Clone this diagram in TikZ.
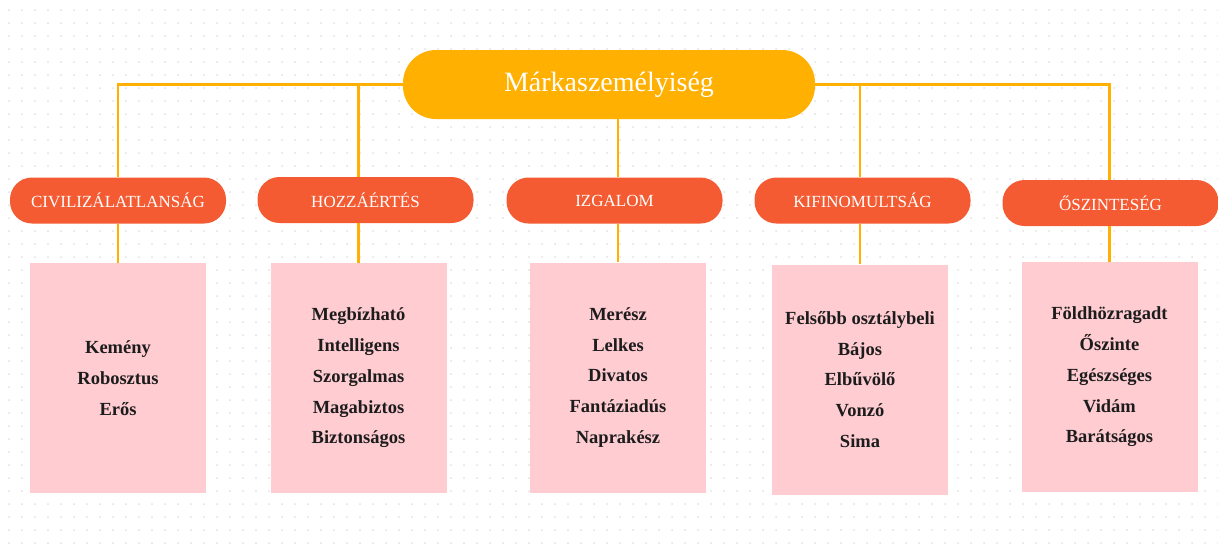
\documentclass[tikz,border=0pt]{standalone}
\usepackage{fontspec}
\setmainfont{Liberation Serif}
\usepackage{xcolor}
\usepackage{tikz}
\usetikzlibrary{positioning,calc}
\definecolor{amber}{HTML}{FFB000}
\definecolor{tomato}{HTML}{F45B32}
\definecolor{blush}{HTML}{FFCCD2}
\definecolor{ink}{HTML}{1C1C1C}
\definecolor{dotgray}{HTML}{E2E2E6}

\begin{document}
\begin{tikzpicture}[
  x=1pt,y=-1pt,
  brand/.style={fill=amber,rounded corners=33pt,minimum width=412pt,minimum height=69pt,text=white,font=\fontsize{28}{32}\selectfont},
  trait/.style={fill=tomato,rounded corners=22pt,minimum width=216pt,minimum height=46pt,text=white,font=\fontsize{17}{20}\selectfont},
  traitlist/.style={fill=blush,minimum width=176pt,minimum height=230pt,align=center,text=ink,font=\bfseries\fontsize{18.5}{30.7}\selectfont},
  link/.style={draw=amber,line width=2.6pt}
]
% page and dotted backdrop
\useasboundingbox[fill=white] (0,0) rectangle (1218,549);
\foreach \i in {0,...,93}
  \foreach \j in {0,...,41}
    \fill[dotgray] (9+13*\i,10+13*\j) circle (1pt);

\node[brand] (root) at (609,84.5) {Márkaszemélyiség};

\node[trait] (c1) at (118,200.5) {CIVILIZÁLATLANSÁG};
\node[trait] (c2) at (365.5,200) {HOZZÁÉRTÉS};
\node[trait] (c3) at (614.5,200.5) {IZGALOM};
\node[trait] (c4) at (862.5,200.5) {KIFINOMULTSÁG};
\node[trait] (c5) at (1110.5,203) {ŐSZINTESÉG};

\node[traitlist] (b1) at (118,378) {Kemény\\Robosztus\\Erős};
\node[traitlist] (b2) at (358.5,378) {Megbízható\\Intelligens\\Szorgalmas\\Magabiztos\\Biztonságos};
\node[traitlist] (b3) at (618,377.5) {Merész\\Lelkes\\Divatos\\Fantáziadús\\Naprakész};
\node[traitlist] (b4) at (860,379.5) {Felsőbb osztálybeli\\Bájos\\Elbűvölő\\Vonzó\\Sima};
\node[traitlist] (b5) at (1109.5,377) {Földhözragadt\\Őszinte\\Egészséges\\Vidám\\Barátságos};

% connectors
\draw[link] (root.west) -| (c1.north);
\draw[link] (root.west) -| (c2.north -| b2.north);
\draw[link] (root.south -| b3.north) -- (c3.north -| b3.north);
\draw[link] (root.east) -| (c4.north -| b4.north);
\draw[link] (root.east) -| (c5.north -| b5.north);
\foreach \k in {1,...,5}
  \draw[link] (c\k.south -| b\k.north) -- (b\k.north);
\end{tikzpicture}
\end{document}
